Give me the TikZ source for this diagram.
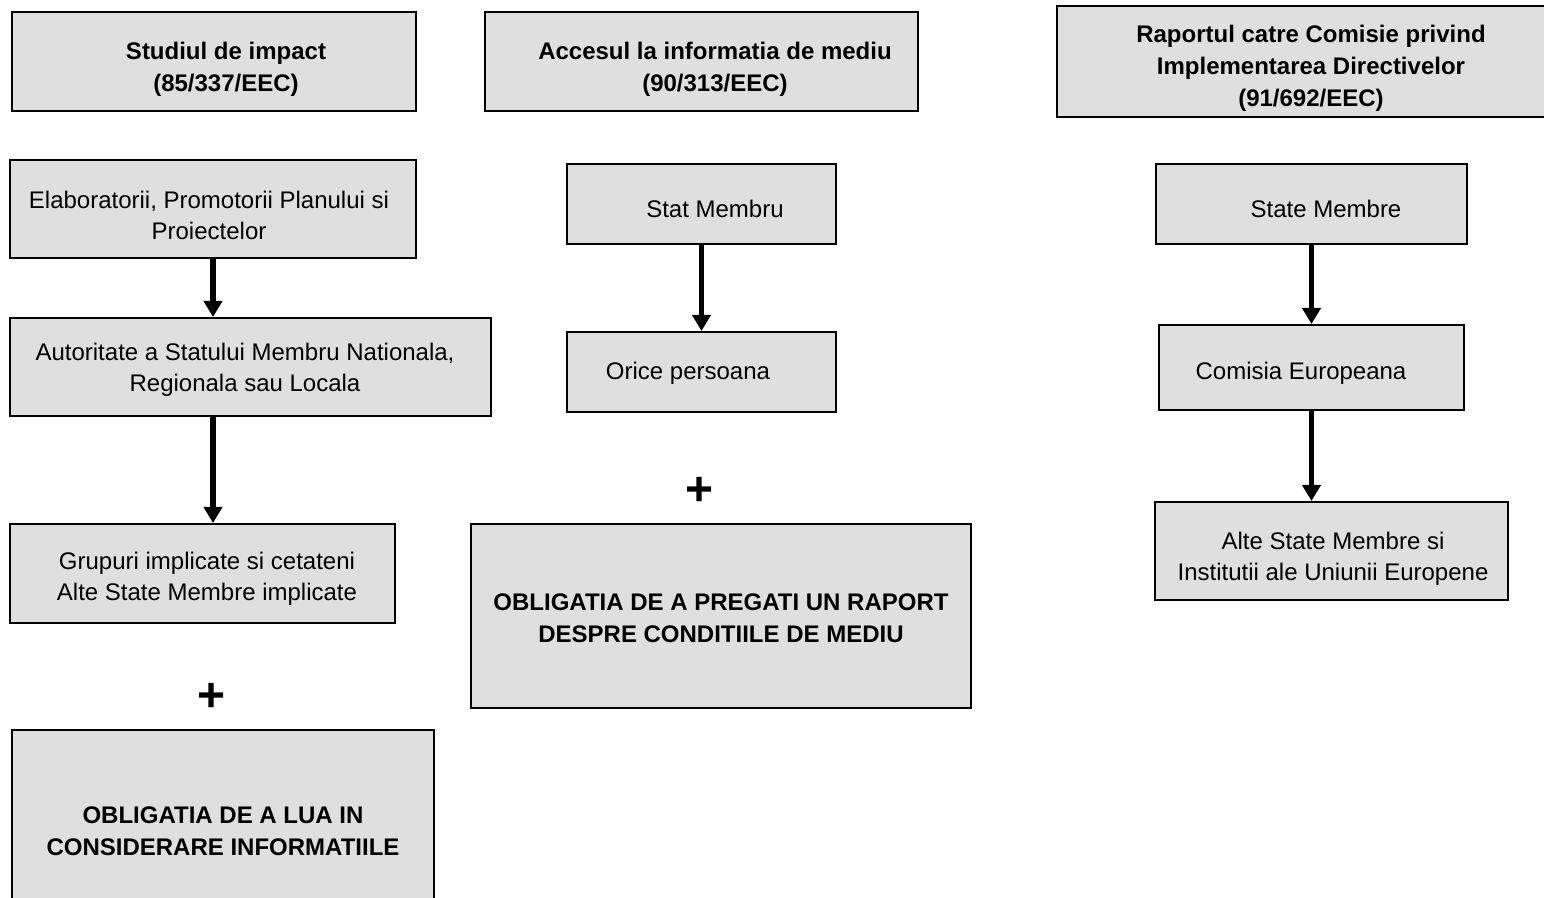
\documentclass[tikz,border=0pt]{standalone}
\usepackage{fontspec}
\setmainfont{Liberation Sans}
\usetikzlibrary{arrows.meta}
\definecolor{boxgray}{RGB}{223,223,223}
\begin{document}
\begin{tikzpicture}[x=0.5pt,y=-0.5pt,
  box/.style={draw=black,line width=1pt,fill=boxgray,inner sep=0pt,rectangle},
  txt/.style={align=center,inner sep=0pt,font=\fontsize{12}{15.5}\selectfont},
  btxt/.style={txt,font=\fontsize{12}{16}\selectfont\bfseries},
  plus/.style={inner sep=0pt,font=\fontsize{24}{26}\selectfont\bfseries},
  arr/.style={line width=2.8pt,-{Triangle[width=9pt,length=8pt]}}]
\useasboundingbox (0,0) rectangle (1544,898);
% column 1
\node[box,minimum width=202pt,minimum height=49.5pt] (studiul) at (214,61.5) {};
\node[btxt] (tstudiul) at (226,69) {Studiul de impact\\(85/337/EEC)};
\node[box,minimum width=203pt,minimum height=49pt] (elab) at (213,209) {};
\node[txt] (telab) at (209,215) {Elaboratorii, Promotorii Planului si\\Proiectelor};
\node[box,minimum width=240.5pt,minimum height=49pt] (autor) at (250.5,367) {};
\node[txt] (tautor) at (245,370) {Autoritate a Statului Membru Nationala,\\Regionala sau Locala};
\node[box,minimum width=192.5pt,minimum height=49.5pt] (grup) at (202.5,573.5) {};
\node[txt] (tgrup) at (207,579) {Grupuri implicate si cetateni\\Alte State Membre implicate};
\node[plus] (plus1) at (212,697) {+};
\node[box,minimum width=211pt,minimum height=90pt] (obl1) at (223,820) {};
\node[btxt] (tobl1) at (223,831) {OBLIGATIA DE A LUA IN\\CONSIDERARE INFORMATIILE};
\draw[arr] (elab.south) -- (elab.south |- autor.north);
\draw[arr] (elab.south |- autor.south) -- (elab.south |- grup.north);
% column 2
\node[box,minimum width=216.5pt,minimum height=49.5pt] (acces) at (701.5,61.5) {};
\node[btxt] (tacces) at (715,69) {Accesul la informatia de mediu\\(90/313/EEC)};
\node[box,minimum width=134.5pt,minimum height=40pt] (stat) at (701.5,204) {};
\node[txt] (tstat) at (715,209) {Stat Membru};
\node[box,minimum width=134.5pt,minimum height=40pt] (orice) at (701.5,372) {};
\node[txt] (torice) at (688,373) {Orice persoana};
\node[plus] (plus2) at (700,491) {+};
\node[box,minimum width=250pt,minimum height=92pt] (obl2) at (721,616) {};
\node[btxt] (tobl2) at (721,618.5) {OBLIGATIA DE A PREGATI UN RAPORT\\DESPRE CONDITIILE DE MEDIU};
\draw[arr] (stat.south) -- (orice.north);
% column 3
\node[box,minimum width=245.5pt,minimum height=55.5pt] (raport) at (1302.5,61.5) {};
\node[btxt] (traport) at (1311,68) {Raportul catre Comisie privind\\Implementarea Directivelor\\(91/692/EEC)};
\node[box,minimum width=155.5pt,minimum height=40pt] (state) at (1311.5,204) {};
\node[txt] (tstate) at (1326,209) {State Membre};
\node[box,minimum width=152.5pt,minimum height=42.5pt] (comisia) at (1311.5,367.5) {};
\node[txt] (tcomisia) at (1301,373) {Comisia Europeana};
\node[box,minimum width=176.5pt,minimum height=49pt] (alte) at (1331.5,551) {};
\node[txt] (talte) at (1333,559) {Alte State Membre si\\Institutii ale Uniunii Europene};
\draw[arr] (state.south) -- (comisia.north);
\draw[arr] (comisia.south) -- (comisia.south |- alte.north);
\end{tikzpicture}
\end{document}
